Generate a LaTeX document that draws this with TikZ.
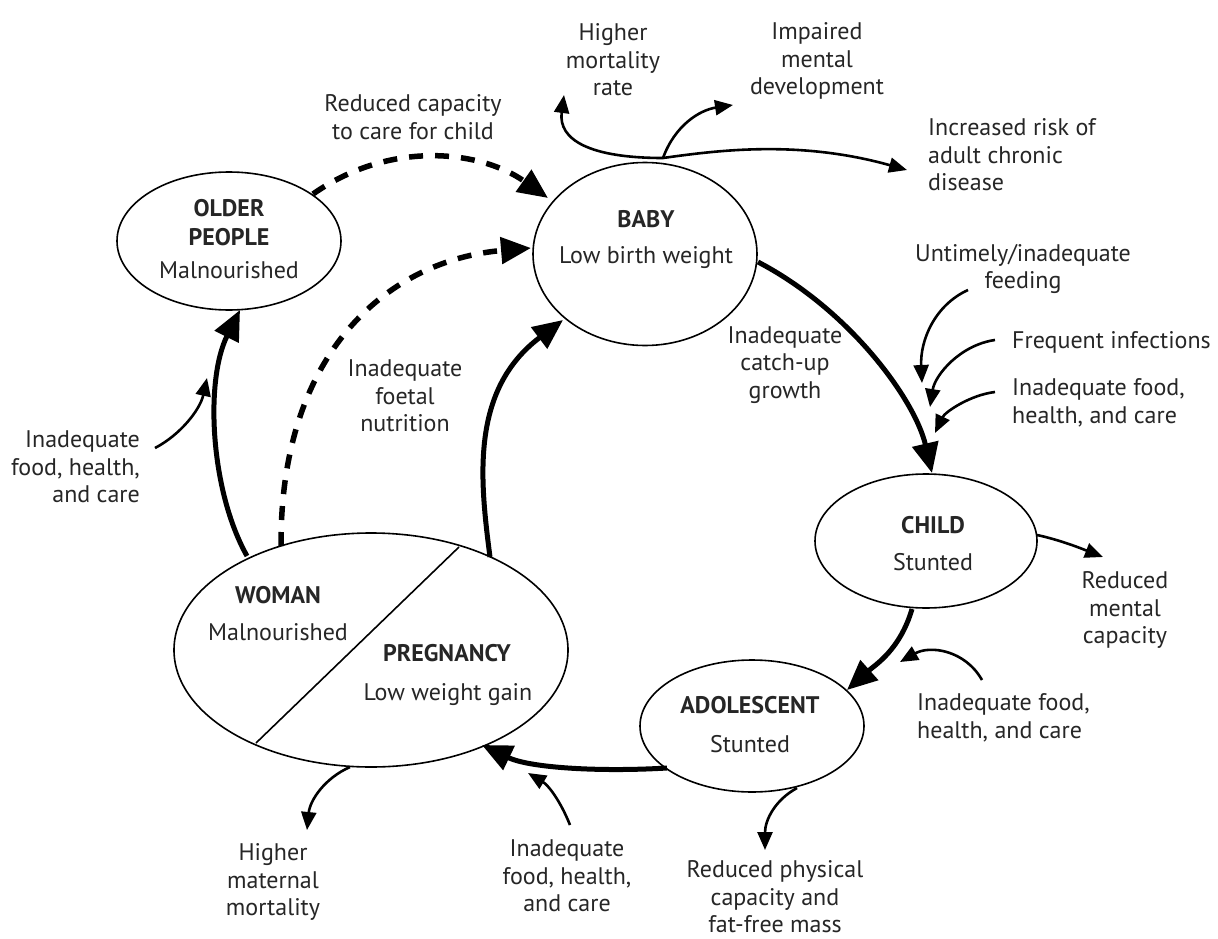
\documentclass[tikz,border=0pt]{standalone}
\usepackage{fontspec}
\setmainfont{PT Sans}
\usetikzlibrary{shapes.geometric,arrows.meta}
\begin{document}
\begin{tikzpicture}[x=1pt,y=-1pt,
  ell/.style={draw, ellipse, line width=1.6pt, inner sep=0pt, outer sep=0pt},
  txt/.style={align=center, font=\fontsize{24}{27.5}\selectfont, inner sep=0pt, text=black!85},
  ttl/.style={txt, font=\fontsize{24}{27.5}\selectfont\bfseries},
  bigarrow/.style={line width=5pt, -{Triangle[length=30pt,width=26pt]}},
  smallarrow/.style={line width=2.6pt, -{Triangle[length=18pt,width=15pt]}},
  dsharrow/.style={line width=5.5pt, dash pattern=on 14pt off 12pt, -{Triangle[length=30pt,width=26pt]}}]
\useasboundingbox[fill=white] (0,0) rectangle (1218,939);

% ellipses
\node[ell, minimum width=224pt, minimum height=138pt] (older) at (229,241) {};
\node[ell, minimum width=224pt, minimum height=183pt] (baby) at (645,254) {};
\node[ell, minimum width=222pt, minimum height=134pt] (child) at (926,541) {};
\node[ell, minimum width=224pt, minimum height=132pt] (adol) at (752,726) {};
\node[ell, minimum width=394pt, minimum height=234pt] (woman) at (371,650) {};
\coordinate (divA) at (459,547);
\coordinate (divB) at (256,743);
\draw[line width=1.6pt] (divA) -- (divB);

% texts in ellipses
\node[ttl] (tOlder1) at (229,208) {OLDER};
\node[ttl] (tOlder2) at (229,237) {PEOPLE};
\node[txt] (tOlder3) at (229,270) {Malnourished};
\node[ttl] (tBaby1) at (646,219) {BABY};
\node[txt] (tBaby2) at (646,258) {Low birth weight};
\node[ttl] (tChild1) at (933,525) {CHILD};
\node[txt] (tChild2) at (933,562) {Stunted};
\node[ttl] (tAdol1) at (750,705) {ADOLESCENT};
\node[txt] (tAdol2) at (750,744) {Stunted};
\node[ttl] (tWoman1) at (278,595) {WOMAN};
\node[txt] (tWoman2) at (278,632) {Malnourished};
\node[ttl] (tPreg1) at (447,653) {PREGNANCY};
\node[txt] (tPreg2) at (448,695) {Low weight gain};

% labels
\node[txt] (lblMort) at (613,60) {Higher\\mortality\\rate};
\node[txt] (lblImp) at (817,61) {Impaired\\mental\\development};
\node[txt, align=left, anchor=west] (lblChronic) at (928,155) {Increased risk of\\adult chronic\\disease};
\node[txt] (lblReduced) at (413,117) {Reduced capacity\\to care for child};
\node[txt] (lblFeed) at (1023,269) {Untimely/inadequate\\feeding};
\node[txt, anchor=west] (lblInf) at (1012,342) {Frequent infections};
\node[txt, align=left, anchor=west] (lblFood1) at (1012,403) {Inadequate food,\\health, and care};
\node[txt] (lblCatch) at (785,365) {Inadequate\\catch-up\\growth};
\node[txt] (lblFoetal) at (405,396) {Inadequate\\foetal\\nutrition};
\node[txt, align=right, anchor=east] (lblFoodL) at (140,467) {Inadequate\\food, health,\\and care};
\node[txt] (lblMental) at (1125,610) {Reduced\\mental\\capacity};
\node[txt, align=left, anchor=west] (lblFood2) at (917,718) {Inadequate food,\\health, and care};
\node[txt] (lblMat) at (273,882) {Higher\\maternal\\mortality};
\node[txt] (lblFood3) at (567,876) {Inadequate\\food, health,\\and care};
\node[txt] (lblPhys) at (775,897) {Reduced physical\\capacity and\\fat-free mass};

% connector end points
\coordinate (babyR) at (758,262);
\coordinate (childT) at (932,473);
\coordinate (childB) at (912,609);
\coordinate (adolT) at (847,690);
\coordinate (adolL) at (667,768);
\coordinate (pregB) at (482,745);
\coordinate (pregT) at (490,557);
\coordinate (babyBL) at (563,320);
\coordinate (womanT) at (247,556);
\coordinate (olderB) at (240,310);
\coordinate (womanTd) at (281,546);
\coordinate (babyL) at (531,248);
\coordinate (olderTR) at (313,194);
\coordinate (babyTL) at (548,198);
\coordinate (branch) at (663,158);
\coordinate (mortTip) at (564,95);
\coordinate (impTip) at (733,105);
\coordinate (chronTip) at (907,170);
\coordinate (childR) at (1037,535);
\coordinate (mentalTip) at (1103,557);
\coordinate (adolB) at (797,788);
\coordinate (physTip) at (765,850);
\coordinate (womanB) at (350,767);
\coordinate (matTip) at (307,830);
\coordinate (foodLs) at (155,448);
\coordinate (foodLt) at (207,378);
\coordinate (food3s) at (570,825);
\coordinate (food3t) at (528,773);
\coordinate (food2s) at (982,680);
\coordinate (food2t) at (900,662);
\coordinate (feedS) at (968,290);
\coordinate (feedT) at (922,383);
\coordinate (infS) at (995,340);
\coordinate (infT) at (930,407);
\coordinate (food1s) at (995,392);
\coordinate (food1t) at (935,433);

% main cycle
\draw[bigarrow] (babyR) .. controls (850,310) and (915,400) .. (childT);
\draw[bigarrow] (childB) .. controls (900,650) and (875,665) .. (adolT);
\draw[bigarrow] (adolL) .. controls (600,772) and (530,768) .. (pregB);
\draw[bigarrow] (pregT) .. controls (480,480) and (470,390) .. (babyBL);
\draw[bigarrow] (womanT) .. controls (210,490) and (205,380) .. (olderB);

% dashed
\draw[dsharrow] (womanTd) .. controls (280,350) and (390,260) .. (babyL);
\draw[dsharrow] (olderTR) .. controls (390,140) and (480,150) .. (babyTL);

% baby outcomes
\draw[smallarrow] (branch) .. controls (590,158) and (558,140) .. (mortTip);
\draw[smallarrow] (branch) .. controls (720,150) and (800,140) .. (chronTip);
\draw[smallarrow] (branch) .. controls (675,125) and (700,110) .. (impTip);

% other small arrows
\draw[smallarrow] (childR) .. controls (1060,540) and (1080,548) .. (mentalTip);
\draw[smallarrow] (adolB) .. controls (775,800) and (765,820) .. (physTip);
\draw[smallarrow] (womanB) .. controls (325,778) and (310,800) .. (matTip);
\draw[smallarrow] (foodLs) .. controls (180,435) and (200,410) .. (foodLt);
\draw[smallarrow] (food3s) .. controls (560,800) and (548,785) .. (food3t);
\draw[smallarrow] (food2s) .. controls (965,650) and (930,645) .. (food2t);
\draw[smallarrow] (feedS) .. controls (935,305) and (920,340) .. (feedT);
\draw[smallarrow] (infS) .. controls (960,345) and (935,375) .. (infT);
\draw[smallarrow] (food1s) .. controls (970,395) and (945,412) .. (food1t);
\end{tikzpicture}
\end{document}
